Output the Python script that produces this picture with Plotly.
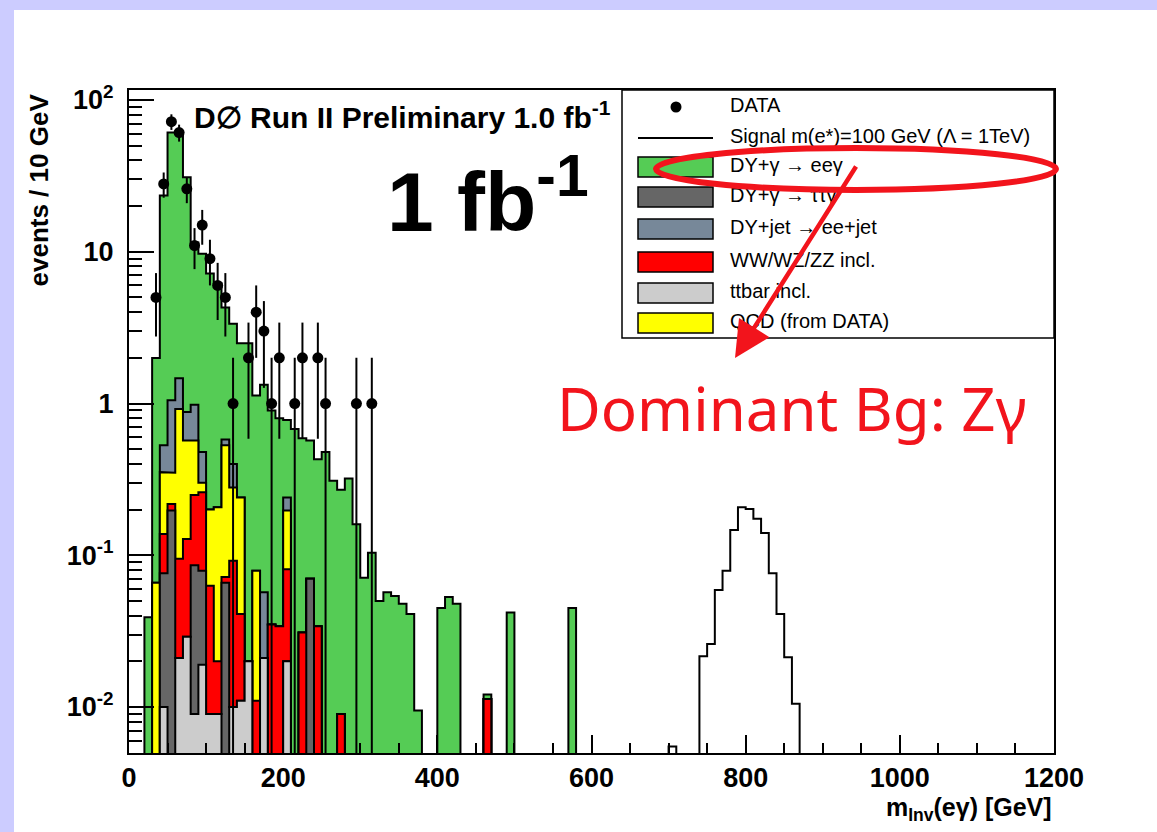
import numpy as np
import plotly.graph_objects as go

# ---------------------------------------------------------------------------
# Histogram contents, 10 GeV bins (lower edges 20 ... 580 GeV)
# ---------------------------------------------------------------------------
BIN_WIDTH = 10
bin_low = list(range(20, 590, BIN_WIDTH))

ee_gamma = [0.039, 1.93, 22.97, 59.95, 59.53, 30.12, 10.52, 9.22, 7.0, 5.99,
            3.72, 2.95, 2.26, 2.48, 1.05, 1.27, 0.865, 0.766, 0.54, 0.68,
            0.559, 0.50, 0.396, 0.48, 0.31, 0.261, 0.32, 0.16, 0.071, 0.104,
            0.050, 0.057, 0.054, 0.048, 0.041, 0.0095, 0, 0, 0.045, 0.053,
            0.048, 0, 0, 0, 0.0008, 0, 0, 0.042, 0, 0,
            0, 0, 0, 0, 0, 0.045, 0]

dy_jet = [0, 0, 0.177, 0.70, 0.55, 0.31, 0.41, 0.18, 0, 0,
          0.05, 0.12, 0, 0, 0, 0.036, 0, 0, 0.043, 0,
          0, 0, 0, 0, 0, 0, 0, 0, 0, 0,
          0, 0, 0, 0, 0, 0, 0, 0, 0, 0,
          0, 0, 0, 0, 0, 0, 0, 0, 0, 0,
          0, 0, 0, 0, 0, 0, 0]

qcd = [0, 0.066, 0.215, 0.132, 0.825, 0.442, 0.32, 0.04, 0.137, 0.187,
       0.458, 0.188, 0.199, 0, 0.068, 0, 0, 0, 0.116, 0,
       0, 0, 0, 0, 0, 0, 0, 0, 0, 0,
       0, 0, 0, 0, 0, 0, 0, 0, 0, 0,
       0, 0, 0, 0, 0, 0, 0, 0, 0, 0,
       0, 0, 0, 0, 0, 0, 0]

diboson = [0, 0, 0.062, 0.021, 0.074, 0.099, 0.164, 0.181, 0.054, 0.011,
           0.006, 0.082, 0.030, 0, 0.011, 0, 0.035, 0.034, 0.061, 0,
           0.031, 0, 0.034, 0, 0, 0.009, 0, 0, 0, 0,
           0, 0, 0, 0, 0, 0, 0, 0, 0, 0,
           0, 0, 0, 0, 0.0113, 0, 0, 0, 0, 0,
           0, 0, 0, 0, 0, 0, 0]

tautau_gamma = [0, 0, 0.066, 0.197, 0, 0, 0.077, 0.060, 0, 0,
                0.066, 0, 0, 0, 0, 0, 0, 0, 0, 0,
                0, 0.070, 0, 0, 0, 0, 0, 0, 0, 0,
                0, 0, 0, 0, 0, 0, 0, 0, 0, 0,
                0, 0, 0, 0, 0, 0, 0, 0, 0, 0,
                0, 0, 0, 0, 0, 0, 0]

ttbar = [0, 0, 0.010, 0, 0.021, 0.029, 0.009, 0.019, 0.009, 0.009,
         0, 0.010, 0.011, 0.020, 0, 0.021, 0, 0, 0.020, 0,
         0, 0, 0, 0, 0, 0, 0, 0, 0, 0,
         0, 0, 0, 0, 0, 0, 0, 0, 0, 0,
         0, 0, 0, 0, 0, 0, 0, 0, 0, 0,
         0, 0, 0, 0, 0, 0, 0]

data_counts = [0, 5, 28, 72, 61, 26, 11, 15, 9, 6,
               5, 1, 0, 2, 4, 3, 1, 2, 0, 1,
               2, 0, 2, 1, 0, 0, 0, 1, 0, 1,
               0, 0, 0, 0, 0, 0, 0, 0, 0, 0,
               0, 0, 0, 0, 0, 0, 0, 0, 0, 0,
               0, 0, 0, 0, 0, 0, 0]

# Excited-electron signal
sig_low = list(range(700, 870, BIN_WIDTH))
signal = [0.0055, 0, 0, 0, 0.0216, 0.026, 0.059, 0.079, 0.147, 0.207,
          0.202, 0.174, 0.140, 0.076, 0.041, 0.0213, 0.0105]

# Stack order bottom -> top, with fill colours
stack_parts = [ttbar, tautau_gamma, diboson, qcd, dy_jet, ee_gamma]
stack_colors = ["#cccccc", "#666666", "#ff0000", "#ffff00", "#778899", "#55cc55"]

legend_labels = ["DATA",
                 "Signal m(e*)=100 GeV (Λ = 1TeV)",
                 "DY+γ → eeγ",
                 "DY+γ → ττγ",
                 "DY+jet → ee+jet",
                 "WW/WZ/ZZ incl.",
                 "ttbar incl.",
                 "QCD (from DATA)"]
legend_colors = ["#55cc55", "#666666", "#778899", "#ff0000", "#cccccc", "#ffff00"]

# ---------------------------------------------------------------------------
# Page geometry
# ---------------------------------------------------------------------------
W, H = 1157, 832
ML, MR, MT, MB = 129, 103, 90, 79
PW, PH = W - ML - MR, H - MT - MB
FONT = "Liberation Sans, Arial, Helvetica, sans-serif"
RED = "#f2141c"
FLOOR = 1e-5  # below the visible log range


def px(x):
    return (x - ML) / PW


def py(y):
    return (H - MB - y) / PH


def step_outline(lows, vals):
    xs, ys = [lows[0]], [FLOOR]
    for lo, v in zip(lows, vals):
        h = v if v > 0 else FLOOR
        xs += [lo, lo + BIN_WIDTH]
        ys += [h, h]
    xs.append(lows[-1] + BIN_WIDTH)
    ys.append(FLOOR)
    return xs, ys


fig = go.Figure()

# Stacked backgrounds: draw cumulative sums from the top down
cumulative = np.cumsum(np.array(stack_parts, dtype=float), axis=0)
for level in range(len(stack_parts) - 1, -1, -1):
    xs, ys = step_outline(bin_low, cumulative[level])
    fig.add_trace(go.Scatter(
        x=xs, y=ys, mode="lines", fill="toself",
        fillcolor=stack_colors[level],
        line=dict(color="black", width=2),
        hoverinfo="skip", showlegend=False))

# Signal outline
sx, sy = step_outline(sig_low, signal)
fig.add_trace(go.Scatter(x=sx, y=sy, mode="lines",
                         line=dict(color="black", width=2),
                         hoverinfo="skip", showlegend=False))

# Data points with Poisson errors
centers = np.array(bin_low) + BIN_WIDTH / 2
counts = np.array(data_counts, dtype=float)
mask = counts > 0
fig.add_trace(go.Scatter(
    x=centers[mask], y=counts[mask], mode="markers",
    marker=dict(color="black", size=11),
    error_y=dict(type="data", array=np.sqrt(counts[mask]), symmetric=True,
                 color="black", thickness=2, width=0),
    showlegend=False))

# ---------------------------------------------------------------------------
# Legend (drawn on an overlay axis spanning the plot area)
# ---------------------------------------------------------------------------
row_y = [107, 138, 167, 197, 229, 262, 293, 323]
fig.add_trace(go.Scatter(
    x=[px(730)] * len(legend_labels), y=[py(v) for v in row_y],
    mode="text", text=legend_labels, textposition="middle right",
    textfont=dict(family=FONT, size=20, color="black"),
    xaxis="x2", yaxis="y2", cliponaxis=False, hoverinfo="skip",
    showlegend=False))
fig.add_trace(go.Scatter(
    x=[px(676)], y=[py(row_y[0])], mode="markers",
    marker=dict(color="black", size=11),
    xaxis="x2", yaxis="y2", hoverinfo="skip", showlegend=False))
fig.add_trace(go.Scatter(
    x=[px(638), px(713)], y=[py(row_y[1])] * 2, mode="lines",
    line=dict(color="black", width=2),
    xaxis="x2", yaxis="y2", hoverinfo="skip", showlegend=False))

shapes = []
# slide border
shapes.append(dict(type="rect", xref="paper", yref="paper", layer="below",
                   x0=px(-10), x1=px(14), y0=py(H + 10), y1=py(-10),
                   fillcolor="#ccccff", line=dict(width=0)))
shapes.append(dict(type="rect", xref="paper", yref="paper", layer="below",
                   x0=px(-10), x1=px(W + 10), y0=py(10), y1=py(-10),
                   fillcolor="#ccccff", line=dict(width=0)))
# legend frame and swatches
shapes.append(dict(type="rect", xref="paper", yref="paper", layer="below",
                   x0=px(622), x1=px(1054), y0=py(338), y1=py(90),
                   fillcolor="white", line=dict(color="black", width=1.5)))
for color, yc in zip(legend_colors, row_y[2:]):
    shapes.append(dict(type="rect", xref="paper", yref="paper", layer="below",
                       x0=px(638), x1=px(713), y0=py(yc + 10), y1=py(yc - 10),
                       fillcolor=color, line=dict(color="black", width=1.5)))
# red ellipse highlight
shapes.append(dict(type="circle", xref="paper", yref="paper", layer="above",
                   x0=px(656), x1=px(1056), y0=py(190), y1=py(148),
                   line=dict(color=RED, width=6)))

annotations = [
    dict(text="D∅ Run II Preliminary 1.0 fb<sup>-1</sup>", x=px(192), y=py(115),
         xanchor="left", yanchor="middle", showarrow=False,
         font=dict(family=FONT, size=30, color="black", weight="bold")),
    dict(text="1 fb<sup>-1</sup>", x=px(385), y=py(196),
         xanchor="left", yanchor="middle", showarrow=False,
         font=dict(family=FONT, size=84, color="black", weight="bold")),
    dict(text="Dominant Bg: Zγ", x=px(792), y=py(408),
         xanchor="center", yanchor="middle", showarrow=False,
         font=dict(family="Noto Sans, DejaVu Sans, sans-serif", size=60, color=RED)),
    dict(text="events / 10 GeV", x=px(38), y=py(92), textangle=-90,
         xanchor="center", yanchor="top", showarrow=False,
         font=dict(family=FONT, size=26, color="black", weight="bold")),
    dict(text="m<sub>Inv</sub>(eγ) [GeV]", x=1, y=py(809),
         xanchor="right", yanchor="middle", showarrow=False,
         font=dict(family=FONT, size=25, color="black", weight="bold")),
    dict(text="", x=px(735), y=py(358), ax=122, ay=-193,
         showarrow=True, arrowhead=2, arrowsize=1.6, arrowwidth=4.5,
         arrowcolor=RED, standoff=0),
]
for ann in annotations:
    ann["xref"] = "paper"
    ann["yref"] = "paper"

y_minor = [k * 10.0 ** e for e in range(-3, 3) for k in range(2, 10)]

fig.update_layout(
    width=W, height=H,
    margin=dict(l=ML, r=MR, t=MT, b=MB),
    paper_bgcolor="white", plot_bgcolor="white",
    showlegend=False,
    shapes=shapes, annotations=annotations,
    xaxis=dict(range=[0, 1200], showgrid=False, zeroline=False,
               showline=True, mirror=True, linecolor="black", linewidth=2,
               ticks="inside", ticklen=18, tickwidth=1.5, tickcolor="black",
               tickvals=list(range(0, 1400, 200)), ticklabelstandoff=0,
               tickfont=dict(family=FONT, size=27, color="black", weight="bold"),
               minor=dict(ticks="inside", ticklen=10, tickwidth=1.5,
                          tickcolor="black", dtick=50, showgrid=False)),
    yaxis=dict(type="log", range=[-2.303, 2.066], showgrid=False, zeroline=False,
               showline=True, mirror=True, linecolor="black", linewidth=2,
               ticks="inside", ticklen=25, tickwidth=1.5, tickcolor="black",
               tickvals=[0.01, 0.1, 1, 10, 100],
               ticktext=["10<sup>-2</sup>", "10<sup>-1</sup>", "1", "10",
                         "10<sup>2</sup>"],
               ticklabelstandoff=8,
               tickfont=dict(family=FONT, size=27, color="black", weight="bold"),
               minor=dict(ticks="inside", ticklen=13, tickwidth=1.5,
                          tickcolor="black", tickmode="array",
                          tickvals=y_minor, showgrid=False)),
    xaxis2=dict(overlaying="x", range=[0, 1], visible=False),
    yaxis2=dict(overlaying="y", range=[0, 1], visible=False),
)

fig.write_html("out.html")
